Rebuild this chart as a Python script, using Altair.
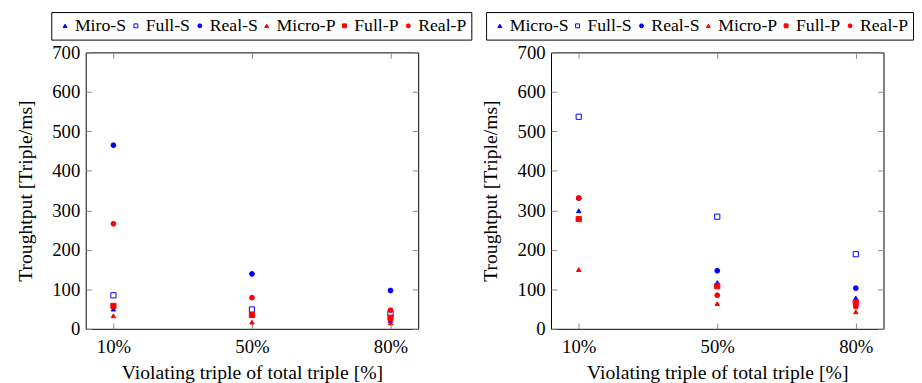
import altair as alt
import pandas as pd

categories = ["10%", "50%", "80%"]

left_series = ["Miro-S", "Full-S", "Real-S", "Micro-P", "Full-P", "Real-P"]
left_values = {
    "Miro-S": [50, 35, 21],
    "Full-S": [85, 49, 39],
    "Real-S": [465, 139, 97],
    "Micro-P": [33, 17, 15],
    "Full-P": [58, 35, 28],
    "Real-P": [266, 79, 47],
}

right_series = ["Micro-S", "Full-S", "Real-S", "Micro-P", "Full-P", "Real-P"]
right_values = {
    "Micro-S": [299, 117, 78],
    "Full-S": [537, 284, 189],
    "Real-S": [331, 147, 103],
    "Micro-P": [150, 64, 43],
    "Full-P": [278, 108, 67],
    "Real-P": [331, 85, 56],
}

shapes = ["triangle-up", "square", "circle", "triangle-up", "square", "circle"]
strokes = ["#0000ff", "#0000ff", "#0000ff", "#ff0000", "#ff0000", "#ff0000"]
fills = ["#0000ff", "#ffffff", "#0000ff", "#ff0000", "#ff0000", "#ff0000"]
sizes = [20, 28, 24, 20, 28, 24]

FONT = "Liberation Serif"


def panel(series, values, legend_x):
    rows = []
    for i, s in enumerate(series):
        for c, v in zip(categories, values[s]):
            rows.append({"series": s, "cat": c, "value": v, "order": i, "sz": sizes[i]})
    df = pd.DataFrame(rows)

    leg = alt.Legend(
        title=None, orient="none", legendX=legend_x, legendY=-41,
        direction="horizontal", columns=6,
    )
    xs = alt.Scale(domain=categories, type="point", padding=0.2)
    ys = alt.Scale(domain=[0, 700], nice=False)

    pts = alt.Chart(df).mark_point(filled=True, opacity=1, strokeWidth=1).encode(
        x=alt.X("cat:N", scale=xs, sort=categories,
                axis=alt.Axis(orient="bottom", title="Violating triple of total triple [%]",
                              offset=-6, tickSize=6, labelPadding=9, domain=False,
                              labelAngle=0, titlePadding=7)),
        y=alt.Y("value:Q", scale=ys,
                axis=alt.Axis(orient="left", title="Troughtput [Triple/ms]",
                              values=list(range(0, 701, 100)), offset=-6, tickSize=6,
                              labelPadding=6, domain=False, grid=False, titlePadding=17)),
        shape=alt.Shape("series:N", scale=alt.Scale(domain=series, range=shapes), legend=leg),
        fill=alt.Fill("series:N", scale=alt.Scale(domain=series, range=fills), legend=leg),
        stroke=alt.Stroke("series:N", scale=alt.Scale(domain=series, range=strokes), legend=leg),
        size=alt.Size("sz:Q", scale=None),
        order=alt.Order("order:Q"),
    )

    ghost = alt.Chart(df).mark_point(opacity=0).encode(
        x=alt.X("cat:N", scale=xs, sort=categories,
                axis=alt.Axis(orient="top", title=None, labels=False, offset=-6,
                              tickSize=6, domain=False)),
        y=alt.Y("value:Q", scale=ys,
                axis=alt.Axis(orient="right", title=None, labels=False,
                              values=list(range(0, 701, 100)), offset=-6, tickSize=6,
                              domain=False, grid=False)),
    )

    return alt.layer(pts, ghost).resolve_axis(x="independent", y="independent").properties(
        width=338, height=281
    )


left = panel(left_series, left_values, -35)
right = panel(right_series, right_values, -66)

chart = alt.hconcat(left, right, spacing=135, bounds="flush").resolve_scale(
    shape="independent", fill="independent", stroke="independent"
).properties(
    autosize=alt.AutoSizeParams(type="pad"),
    padding={"left": 7, "top": 0, "right": 0, "bottom": 0},
).configure(
    font=FONT
).configure_view(
    stroke="#000000", strokeWidth=1
).configure_axis(
    labelFont=FONT, labelFontSize=19, labelColor="#000000",
    titleFont=FONT, titleFontSize=20, titleColor="#000000", titleFontWeight="normal",
    tickColor="#888888", tickWidth=1, grid=False,
).configure_legend(
    labelFont=FONT, labelFontSize=18, labelColor="#000000",
    strokeColor="#000000", strokeWidth=1, padding=5, columnPadding=0,
    labelOffset=1, symbolSize=16, symbolStrokeWidth=1, fillColor="#ffffff",
)

chart.save("out.html", embed_options={"renderer": "svg", "actions": False})
